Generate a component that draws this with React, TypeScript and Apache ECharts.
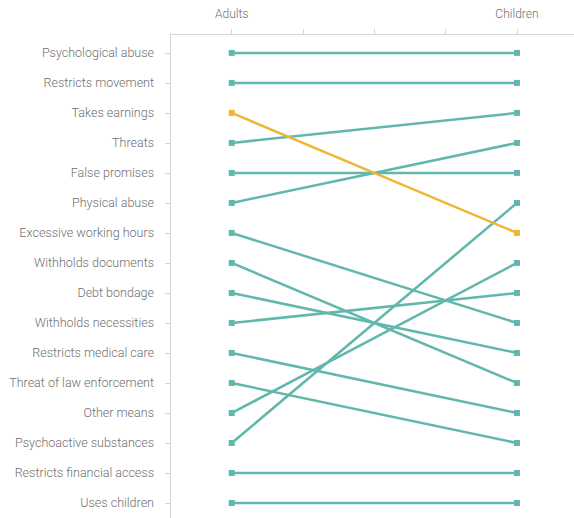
import React, { useEffect, useRef } from "react";
import * as echarts from "echarts";

const categories = [
  "Psychological abuse",
  "Restricts movement",
  "Takes earnings",
  "Threats",
  "False promises",
  "Physical abuse",
  "Excessive working hours",
  "Withholds documents",
  "Debt bondage",
  "Withholds necessities",
  "Restricts medical care",
  "Threat of law enforcement",
  "Other means",
  "Psychoactive substances",
  "Restricts financial access",
  "Uses children",
];
const groups = ["Adults", "Children"];
const adultsRank = [0, 1, 2, 3, 4, 5, 6, 7, 8, 9, 10, 11, 12, 13, 14, 15];
const childrenRank = [0, 1, 6, 2, 4, 3, 9, 11, 10, 8, 12, 13, 7, 5, 14, 15];
const highlighted = ["Takes earnings"];

const TEAL = "#62b7ac";
const ORANGE = "#efb631";

export default function App() {
  const ref = useRef<HTMLDivElement>(null);
  useEffect(() => {
    if (!ref.current) return;
    const chart = echarts.init(ref.current, null, { renderer: "svg" });
    const series = categories.map((name, i) => {
      const color = highlighted.includes(name) ? ORANGE : TEAL;
      return {
        type: "line",
        name,
        data: [
          [0, adultsRank[i]],
          [1, childrenRank[i]],
        ],
        symbol: "rect",
        symbolSize: 6,
        showSymbol: true,
        lineStyle: { color, width: 2.5 },
        itemStyle: { color },
        z: highlighted.includes(name) ? 3 : 2,
        silent: true,
      };
    });
    const labelStyle = {
      color: "#707070",
      fontFamily: "Roboto, 'Liberation Sans', sans-serif",
      fontWeight: 300,
      fontSize: 12.5,
    };
    chart.setOption({
      animation: false,
      grid: {
        left: 170,
        right: 0,
        top: 34,
        bottom: 0,
        containLabel: false,
        outerBoundsMode: "none",
      },
      xAxis: {
        type: "value",
        position: "top",
        min: -0.2165,
        max: 1.2,
        axisLine: { show: true, onZero: false, lineStyle: { color: "#d6d6d6", width: 1 } },
        axisTick: {
          show: true,
          length: 5,
          customValues: [0, 0.25, 0.5, 0.75, 1],
          lineStyle: { color: "#d6d6d6" },
        },
        axisLabel: {
          ...labelStyle,
          fontSize: 12,
          margin: 14,
          customValues: [0, 1],
          formatter: (v: number) => groups[Math.round(v)] ?? "",
        },
        splitLine: { show: false },
      },
      yAxis: {
        type: "value",
        inverse: true,
        min: -0.63,
        max: 15.5,
        axisLine: { show: true, onZero: false, lineStyle: { color: "#d6d6d6", width: 1 } },
        axisTick: {
          show: true,
          length: 5,
          customValues: adultsRank,
          lineStyle: { color: "#d6d6d6" },
        },
        axisLabel: {
          ...labelStyle,
          margin: 16,
          customValues: adultsRank,
          formatter: (v: number) => categories[Math.round(v)] ?? "",
        },
        splitLine: { show: false },
      },
      series,
    });
    return () => chart.dispose();
  }, []);
  return (
    <div
      ref={ref}
      style={{ position: "absolute", left: 0, top: 0, width: 574, height: 518 }}
    />
  );
}
